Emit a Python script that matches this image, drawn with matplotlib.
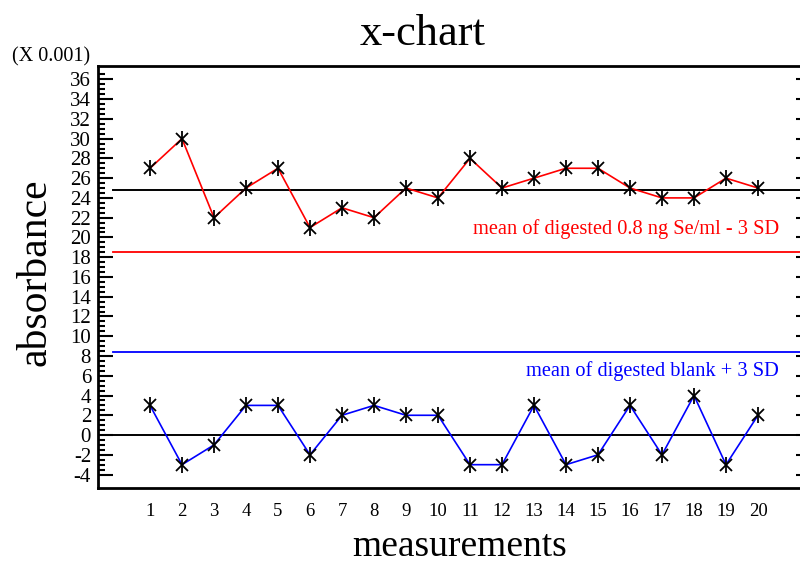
import numpy as np
import matplotlib
matplotlib.use("Agg")
import matplotlib.pyplot as plt
from matplotlib.ticker import FixedLocator

plt.rcParams['font.family'] = ['Liberation Serif', 'DejaVu Serif']
plt.rcParams['axes.unicode_minus'] = False

measurements = list(range(1, 21))
sample = [27, 30, 22, 25, 27, 21, 23, 22, 25, 24, 28, 25, 26, 27, 27, 25, 24, 24, 26, 25]
blank = [3, -3, -1, 3, 3, -2, 2, 3, 2, 2, -3, -3, 3, -3, -2, 3, -2, 4, -3, 2]

sample_mean = 24.75
sample_limit = 18.5
blank_mean = 0.0
blank_limit = 8.45

red_label = "mean of digested 0.8 ng Se/ml - 3 SD"
blue_label = "mean of digested blank + 3 SD"

fig = plt.figure(figsize=(8, 5.63), dpi=100)
ax = fig.add_axes([98 / 800, 75 / 563, 704 / 800, 422 / 563])
ax.set_xlim(-0.625, 21.375)
ax.set_ylim(-5.36, 37.35)

x0 = 15 / 704  # lines start just right of the tick marks
ax.axhline(sample_mean, xmin=x0, color='black', lw=1.4)
ax.axhline(blank_mean, xmin=x0, color='black', lw=1.4)
ax.axhline(sample_limit, xmin=x0, color='#ff0000', lw=1.3)
ax.axhline(blank_limit, xmin=x0, color='#0000ff', lw=1.3)

ax.plot(measurements, sample, color='#ff0000', lw=1.2, zorder=3)
ax.plot(measurements, blank, color='#0000ff', lw=1.2, zorder=3)
# asterisk markers: an X plus a vertical bar
for ys in (sample, blank):
    ax.plot(measurements, ys, ls='none', marker='x', ms=9, mec='black', mew=1.3, zorder=4)
    ax.plot(measurements, ys, ls='none', marker='|', ms=12, mec='black', mew=1.3, zorder=4)

ax.text(20.66, 20.85, red_label, color='#ff0000', fontsize=14.7, ha='right', va='center')
ax.text(20.66, 6.5, blue_label, color='#0000ff', fontsize=14.7, ha='right', va='center')

for s in ['left', 'top', 'bottom']:
    ax.spines[s].set_linewidth(2)
ax.spines['right'].set_visible(False)

ax.set_xticks(measurements)
ax.tick_params(axis='x', length=0, pad=11, labelsize=13.5)
ax.yaxis.set_major_locator(FixedLocator(np.arange(-4, 37, 2)))
ax.yaxis.set_minor_locator(FixedLocator(np.arange(-4, 36.6, 0.5)))
ax.tick_params(axis='y', which='major', direction='in', length=10.5, width=1.5, pad=5, labelsize=15)
ax.tick_params(axis='y', which='minor', direction='in', length=5, width=1.5)

twin = ax.twinx()
twin.set_ylim(ax.get_ylim())
twin.yaxis.set_major_locator(FixedLocator(np.arange(-4, 37, 2)))
twin.tick_params(axis='y', direction='in', length=4, width=1.5, labelright=False)
for s in twin.spines.values():
    s.set_visible(False)

fig.text(423 / 800, 1 - 45 / 563, "x-chart", fontsize=32, ha='center', va='baseline')
fig.text(12 / 800, 1 - 57 / 563, "(X 0.001)", fontsize=14.5, ha='left', va='center')
fig.text(35 / 800, 1 - 272 / 563, "absorbance", fontsize=30, rotation=90, ha='center', va='center')
fig.text(460 / 800, 1 - 556 / 563, "measurements", fontsize=27, ha='center', va='baseline')

fig.savefig("out.png", dpi=100)
